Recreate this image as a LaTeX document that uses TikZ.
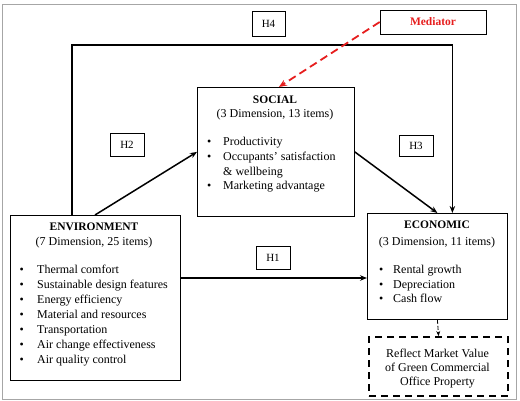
\documentclass[tikz,border=0pt]{standalone}
\usepackage{fontspec}
\setmainfont{Liberation Serif}
\usetikzlibrary{arrows.meta}
\definecolor{medred}{RGB}{230,30,30}
\begin{document}
\begin{tikzpicture}[x=1pt,y=-1pt,
  box/.style={draw, line width=0.8pt, inner sep=0pt, anchor=north west},
  hbox/.style={draw, line width=0.6pt, inner sep=0pt, font=\fontsize{11}{12}\selectfont},
  itm/.style={anchor=base west, inner sep=0pt, font=\fontsize{12}{14}\selectfont},
  ttl/.style={anchor=base, inner sep=0pt, font=\fontsize{11.5}{14}\selectfont\bfseries},
  sub/.style={anchor=base, inner sep=0pt, font=\fontsize{12}{14}\selectfont},
  link/.style={line width=1.5pt, -{Stealth[length=7pt,width=5.5pt]}},
]
\useasboundingbox (0,0) rectangle (520,401);
% outer frame
\draw[gray!70, line width=0.8pt] (2,4) rectangle (516,399);

% boxes
\node[box, minimum width=170pt, minimum height=165pt] (env) at (10,215) {};
\node[box, minimum width=157pt, minimum height=129pt] (social) at (197,87) {};
\node[box, minimum width=140pt, minimum height=106pt] (econ) at (367,213) {};
\node[box, line width=2.2pt, dash pattern=on 7pt off 5pt, minimum width=139pt, minimum height=59pt] (reflect) at (368,336) {};

% hypothesis labels
\node[hbox, minimum width=33pt, minimum height=25pt] (h4) at (268.5,24) {H4};
\node[hbox, minimum width=34pt, minimum height=23pt] (h2) at (127,144.5) {H2};
\node[hbox, minimum width=34pt, minimum height=21pt] (h3) at (416,146) {H3};
\node[hbox, minimum width=34pt, minimum height=23pt] (h1) at (273,257.5) {H1};
\node[hbox, minimum width=106pt, minimum height=24pt, text=medred, font=\fontsize{11.5}{12}\selectfont\bfseries] (med) at (433,22) {Mediator};

% SOCIAL text
\node[ttl] (socT) at (275,104) {SOCIAL};
\node[sub] (socS) at (275,118) {(3 Dimension, 13 items)};
\node[itm] (soc1) at (207,146) {\makebox[16pt][l]{\textbullet}Productivity};
\node[itm] (soc2) at (207,161) {\makebox[16pt][l]{\textbullet}Occupants’ satisfaction};
\node[itm] (soc3) at (223,175.5) {\& wellbeing};
\node[itm] (soc4) at (207,190) {\makebox[16pt][l]{\textbullet}Marketing advantage};

% ENVIRONMENT text
\node[ttl] (envT) at (94,230) {ENVIRONMENT};
\node[sub] (envS) at (94,245) {(7 Dimension, 25 items)};
\foreach \t [count=\i] in {Thermal comfort, Sustainable design features, Energy efficiency, Material and resources, Transportation, Air change effectiveness, Air quality control}
  \node[itm] (env\i) at (19.5,258+15*\i) {\makebox[17.5pt][l]{\textbullet}\t};

% ECONOMIC text
\node[ttl] (ecoT) at (437,229) {ECONOMIC};
\node[sub] (ecoS) at (437,245) {(3 Dimension, 11 items)};
\foreach \t [count=\i] in {Rental growth, Depreciation, Cash flow}
  \node[itm] (eco\i) at (379,259+14.5*\i) {\makebox[14pt][l]{\textbullet}\t};

% Reflect text
\node[sub] (ref1) at (437.5,357) {Reflect Market Value};
\node[sub] (ref2) at (437.5,371) {of Green Commercial};
\node[sub] (ref3) at (437.5,385) {Office Property};

% connectors
\coordinate (h1y) at (0,278);
\draw[link] (env.east |- h1y) -- (econ.west |- h1y);
\draw[link] ([xshift=85pt]env.north west) -- (social.west);
\draw[link] (social.east) -- (econ.north);
\draw[link] ([xshift=62pt]env.north west) -- ++(0,-170) -| ([xshift=15pt]econ.north);
\draw[medred, line width=1.8pt, dash pattern=on 8pt off 4.5pt, -{Stealth[length=8pt,width=6.5pt]}] (med.west) -- ([xshift=3pt]social.north);
\draw[line width=0.8pt, dash pattern=on 4pt off 2pt, -{Stealth[length=5pt,width=4pt]}] (econ.south) -- (reflect.north);
\end{tikzpicture}
\end{document}
